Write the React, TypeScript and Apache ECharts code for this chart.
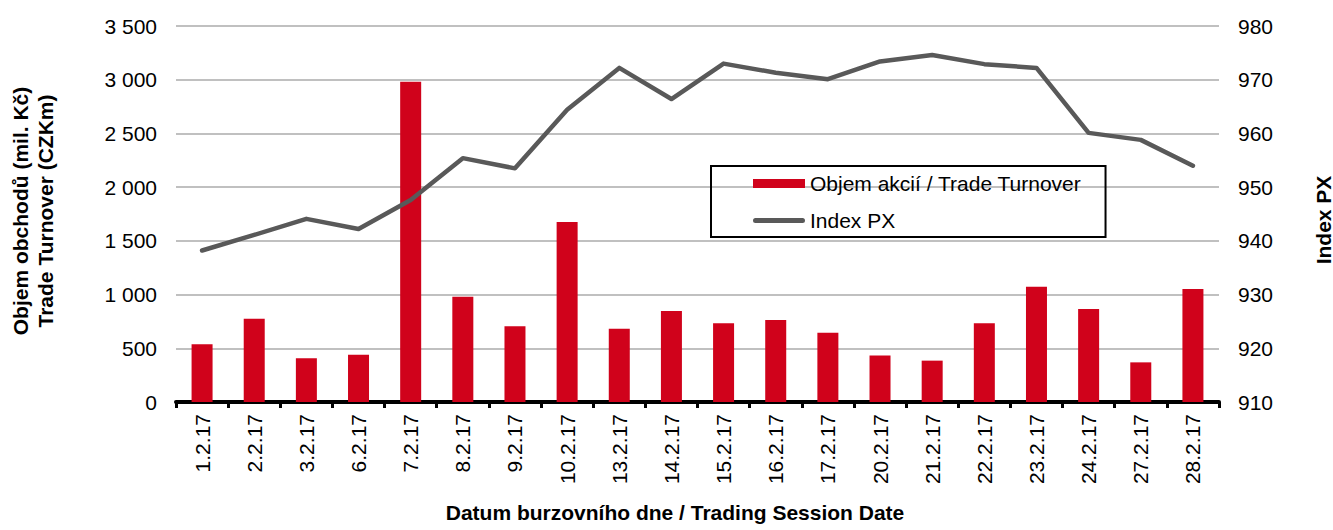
import React, { useEffect, useRef } from "react";
import * as echarts from "echarts";

const categories = ["1.2.17","2.2.17","3.2.17","6.2.17","7.2.17","8.2.17","9.2.17","10.2.17","13.2.17","14.2.17","15.2.17","16.2.17","17.2.17","20.2.17","21.2.17","22.2.17","23.2.17","24.2.17","27.2.17","28.2.17"];
const turnover = [537,776,407,440,2982,980,704,1675,682,847,732,763,645,434,385,732,1073,866,369,1052];
const indexPX = [938.2,941.1,944.1,942.2,947.6,955.4,953.5,964.4,972.2,966.4,973.0,971.3,970.1,973.4,974.6,972.9,972.2,960.1,958.8,954.0];

const leftName = "Objem obchodů (mil. Kč)\nTrade Turnover (CZKm)";
const rightName = "Index PX";
const xName = "Datum burzovního dne / Trading Session Date";
const seriesNames = ["Objem akcií / Trade Turnover", "Index PX"];

const FONT = "'Liberation Sans', Arial, sans-serif";
const FS = 21;
const LINE_ICON = "path://M0,0L52,0M2.5,2A2.5,2.5,0,0,0,2.5,7L49.5,7A2.5,2.5,0,0,0,49.5,2ZM0,9L52,9";

export default function App() {
  const ref = useRef<HTMLDivElement>(null);
  useEffect(() => {
    if (!ref.current) return;
    const chart = echarts.init(ref.current, undefined, { renderer: "svg" });
    chart.setOption({
      animation: false,
      textStyle: { fontFamily: FONT },
      grid: { left: 176, right: 114, top: 26, bottom: 128 },
      legend: {
        left: 711,
        top: 166,
        orient: "vertical",
        padding: [7, 24, 6, 42],
        itemGap: 16,
        itemWidth: 52,
        itemHeight: 9,
        borderColor: "#000",
        borderWidth: 2,
        textStyle: { fontSize: FS, color: "#000", fontFamily: FONT },
        data: [
          { name: seriesNames[0], icon: "rect" },
          { name: seriesNames[1], icon: LINE_ICON, itemStyle: { color: "#595959", borderWidth: 0 } },
        ],
      },
      xAxis: {
        type: "category",
        data: categories,
        axisLine: { show: true, lineStyle: { color: "#000", width: 4 } },
        axisTick: { show: true, length: 6, lineStyle: { color: "#000", width: 3 } },
        axisLabel: { rotate: 90, margin: 12, fontSize: FS, color: "#000", fontFamily: FONT },
      },
      yAxis: [
        {
          type: "value",
          min: 0,
          max: 3500,
          interval: 500,
          axisLine: { show: false },
          axisTick: { show: false },
          splitLine: { show: true, lineStyle: { color: "#C0C0C0", width: 2 } },
          axisLabel: {
            margin: 19,
            fontSize: FS,
            color: "#000",
            fontFamily: FONT,
            formatter: (v: number) => String(v).replace(/\B(?=(\d{3})+(?!\d))/g, " "),
          },
        },
        {
          type: "value",
          min: 910,
          max: 980,
          interval: 10,
          axisLine: { show: false },
          axisTick: { show: false },
          splitLine: { show: false },
          axisLabel: { margin: 19, fontSize: FS, color: "#000", fontFamily: FONT },
        },
      ],
      series: [
        {
          name: seriesNames[0],
          type: "bar",
          data: turnover,
          yAxisIndex: 0,
          barWidth: 21,
          itemStyle: { color: "#D0021B" },
        },
        {
          name: seriesNames[1],
          type: "line",
          data: indexPX,
          yAxisIndex: 1,
          symbol: "none",
          lineStyle: { color: "#595959", width: 4.5, cap: "round", join: "round" },
          itemStyle: { color: "#595959" },
          z: 5,
        },
      ],
      graphic: [
        {
          type: "text",
          x: 33,
          y: 211,
          rotation: Math.PI / 2,
          style: {
            text: leftName,
            font: `bold ${FS}px ${FONT}`,
            fill: "#000",
            align: "center",
            verticalAlign: "middle",
            lineHeight: 25,
          },
        },
        {
          type: "text",
          x: 1323,
          y: 220,
          rotation: Math.PI / 2,
          style: {
            text: rightName,
            font: `bold ${FS}px ${FONT}`,
            fill: "#000",
            align: "center",
            verticalAlign: "middle",
          },
        },
        {
          type: "text",
          x: 675,
          y: 512,
          style: {
            text: xName,
            font: `bold ${FS}px ${FONT}`,
            fill: "#000",
            align: "center",
            verticalAlign: "middle",
          },
        },
      ],
    });
    return () => chart.dispose();
  }, []);
  return <div ref={ref} style={{ width: 1333, height: 530, position: "absolute", left: 0, top: 0 }} />;
}
